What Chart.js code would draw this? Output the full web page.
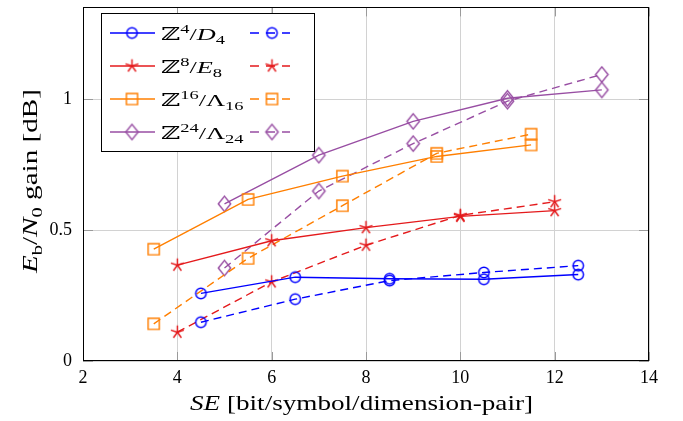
<!DOCTYPE html>
<html>
<head>
<meta charset="utf-8">
<script src="https://cdn.jsdelivr.net/npm/chart.js@4/dist/chart.umd.min.js"></script>
<style>
  html, body { margin: 0; padding: 0; background: #fff; }
  canvas { display: block; }
</style>
</head>
<body>
<canvas id="c" width="683" height="421"></canvas>
<script>
// ---- data ----
const xD4 = [4.5, 6.5, 8.5, 10.5, 12.5];
const yD4Solid = [0.258, 0.320, 0.314, 0.312, 0.330];
const yD4Dashed = [0.148, 0.236, 0.307, 0.338, 0.364];

const xE8 = [4, 6, 8, 10, 12];
const yE8Solid = [0.366, 0.459, 0.509, 0.552, 0.574];
const yE8Dashed = [0.110, 0.302, 0.442, 0.556, 0.608];

const xL16 = [3.5, 5.5, 7.5, 9.5, 11.5];
const yL16Solid = [0.427, 0.617, 0.706, 0.781, 0.825];
const yL16Dashed = [0.142, 0.392, 0.593, 0.793, 0.866];

const xL24 = [5, 7, 9, 11, 13];
const yL24Solid = [0.600, 0.786, 0.915, 1.003, 1.035];
const yL24Dashed = [0.355, 0.649, 0.830, 0.992, 1.094];

const xTicks = [2, 4, 6, 8, 10, 12, 14];
const yTicks = [0, 0.5, 1];

// legend names (rich text parts)
const nameD4 = [{t:'ℤ'},{t:'4',sup:1},{t:'/'},{t:'D',it:1},{t:'4',sub:1}];
const nameE8 = [{t:'ℤ'},{t:'8',sup:1},{t:'/'},{t:'E',it:1},{t:'8',sub:1}];
const nameL16 = [{t:'ℤ'},{t:'16',sup:1},{t:'/'},{t:'Λ'},{t:'16',sub:1}];
const nameL24 = [{t:'ℤ'},{t:'24',sup:1},{t:'/'},{t:'Λ'},{t:'24',sub:1}];
const xTitle = [{t:'SE',it:1},{t:' [bit/symbol/dimension-pair]'}];
const yTitle = [{t:'E',it:1},{t:'b',sub:1},{t:'/'},{t:'N',it:1},{t:'0',sub:1},{t:' gain [dB]'}];

// ---- styling ----
const BLUE = '#0000ff', RED = '#e41a1c', ORANGE = '#ff7f00', PURPLE = '#984ea3';
const SERIF = '"Liberation Serif", "DejaVu Serif", serif';
const DASH = [8, 5];
const LW = 1.4;

function marker(shape, color) {
  const s = 21, c = s / 2;
  const cv = document.createElement('canvas');
  cv.width = s; cv.height = s;
  const g = cv.getContext('2d');
  g.strokeStyle = color; g.lineWidth = 1.45;
  g.beginPath();
  if (shape === 'circle') {
    g.arc(c, c, 5.2, 0, Math.PI * 2);
  } else if (shape === 'square') {
    g.rect(c - 5.6, c - 5.6, 11.2, 11.2);
  } else if (shape === 'diamond') {
    g.moveTo(c, c - 7.6); g.lineTo(c + 6.2, c); g.lineTo(c, c + 7.6); g.lineTo(c - 6.2, c); g.closePath();
  } else if (shape === 'star') {
    for (let k = 0; k < 5; k++) {
      const a = (-90 + 72 * k) * Math.PI / 180;
      g.moveTo(c, c); g.lineTo(c + 6.8 * Math.cos(a), c + 6.8 * Math.sin(a));
    }
  }
  g.stroke();
  return cv;
}

const mD4 = marker('circle', BLUE), mE8 = marker('star', RED),
      mL16 = marker('square', ORANGE), mL24 = marker('diamond', PURPLE);

function pts(xs, ys) { return xs.map((x, i) => ({x: x, y: ys[i]})); }
function ds(xs, ys, color, m, dashed) {
  return {
    data: pts(xs, ys), borderColor: color, backgroundColor: 'transparent',
    borderWidth: LW, borderDash: dashed ? DASH : [], pointStyle: m,
    pointRadius: 6, pointHoverRadius: 6, showLine: true, fill: false, tension: 0
  };
}

const datasets = [
  ds(xD4, yD4Solid, BLUE, mD4, false), ds(xD4, yD4Dashed, BLUE, mD4, true),
  ds(xE8, yE8Solid, RED, mE8, false), ds(xE8, yE8Dashed, RED, mE8, true),
  ds(xL16, yL16Solid, ORANGE, mL16, false), ds(xL16, yL16Dashed, ORANGE, mL16, true),
  ds(xL24, yL24Solid, PURPLE, mL24, false), ds(xL24, yL24Dashed, PURPLE, mL24, true)
];

// ---- rich text helpers ----
function fontFor(p, size) {
  const s = (p.sub || p.sup) ? size * 0.7 : size;
  return (p.it ? 'italic ' : '') + s.toFixed(1) + 'px ' + SERIF;
}
function richWidth(ctx, parts, size) {
  let w = 0;
  for (const p of parts) { ctx.font = fontFor(p, size); w += ctx.measureText(p.t).width; }
  return w;
}
function drawRich(ctx, parts, x, y, size, sx, align) {
  const w = richWidth(ctx, parts, size) * sx;
  const x0 = align === 'center' ? x - w / 2 : x;
  ctx.save();
  ctx.translate(x0, y);
  ctx.scale(sx, 1);
  ctx.fillStyle = '#000';
  ctx.textBaseline = 'alphabetic';
  ctx.textAlign = 'left';
  let px = 0;
  for (const p of parts) {
    ctx.font = fontFor(p, size);
    const dy = p.sub ? size * 0.22 : (p.sup ? -size * 0.38 : 0);
    ctx.fillText(p.t, px, dy);
    px += ctx.measureText(p.t).width;
  }
  ctx.restore();
}

const deco = {
  id: 'deco',
  beforeDatasetsDraw(chart) {
    const {ctx, chartArea: a, scales} = chart;
    ctx.save();
    ctx.strokeStyle = '#9a9a9a'; ctx.lineWidth = 1;
    ctx.beginPath();
    for (const v of xTicks) {
      const p = Math.round(scales.x.getPixelForValue(v)) + 0.5;
      ctx.moveTo(p, a.bottom); ctx.lineTo(p, a.bottom - 9);
      ctx.moveTo(p, a.top); ctx.lineTo(p, a.top + 9);
    }
    for (const v of yTicks) {
      const p = Math.round(scales.y.getPixelForValue(v)) + 0.5;
      ctx.moveTo(a.left, p); ctx.lineTo(a.left + 10, p);
      ctx.moveTo(a.right, p); ctx.lineTo(a.right - 10, p);
    }
    ctx.stroke();
    ctx.restore();
  },
  afterDatasetsDraw(chart) {
    const {ctx, chartArea: a} = chart;
    ctx.save();
    // frame
    ctx.strokeStyle = '#000'; ctx.lineWidth = 1;
    ctx.strokeRect(Math.round(a.left) + 0.5, Math.round(a.top) + 0.5,
                   Math.round(a.right - a.left) - 1, Math.round(a.bottom - a.top) - 1);
    // legend box
    const L = 101, T = 13, R = 315, B = 152;
    ctx.fillStyle = '#fff';
    ctx.fillRect(L, T, R - L, B - T);
    ctx.strokeStyle = '#000';
    ctx.strokeRect(L + 0.5, T + 0.5, R - L - 1, B - T - 1);
    const rows = [
      {name: nameD4, color: BLUE, m: mD4},
      {name: nameE8, color: RED, m: mE8},
      {name: nameL16, color: ORANGE, m: mL16},
      {name: nameL24, color: PURPLE, m: mL24}
    ];
    const fs = 17.5;
    const sx = 64 / richWidth(ctx, nameD4, fs);
    rows.forEach((r, i) => {
      const y = 33 + i * 33;
      ctx.strokeStyle = r.color; ctx.lineWidth = LW;
      ctx.setLineDash([]);
      ctx.beginPath(); ctx.moveTo(110, y); ctx.lineTo(155, y); ctx.stroke();
      ctx.drawImage(r.m, 132 - r.m.width / 2, y - r.m.height / 2);
      ctx.setLineDash([9, 7]); ctx.lineDashOffset = 0;
      ctx.beginPath(); ctx.moveTo(250, y); ctx.lineTo(290, y); ctx.stroke();
      ctx.setLineDash([]);
      ctx.drawImage(r.m, 272 - r.m.width / 2, y - r.m.height / 2);
      drawRich(ctx, r.name, 161, y + 7, fs, sx, 'left');
    });
    ctx.restore();
  },
  afterDraw(chart) {
    const {ctx} = chart;
    const fs = 21;
    const sxX = 343 / richWidth(ctx, xTitle, fs);
    drawRich(ctx, xTitle, 361.5, 410, fs, sxX, 'center');
    ctx.save();
    ctx.translate(37, 181);
    ctx.rotate(-Math.PI / 2);
    const sxY = 184 / richWidth(ctx, yTitle, fs);
    drawRich(ctx, yTitle, 0, 0, fs, sxY, 'center');
    ctx.restore();
  }
};

new Chart(document.getElementById('c'), {
  type: 'scatter',
  data: { datasets: datasets },
  options: {
    responsive: false,
    animation: false,
    devicePixelRatio: 1,
    layout: { padding: { left: 0, right: 34, top: 2, bottom: 0 } },
    plugins: { legend: { display: false }, tooltip: { enabled: false } },
    scales: {
      x: {
        type: 'linear', min: 2, max: 14,
        afterBuildTicks: s => { s.ticks = xTicks.map(v => ({value: v})); },
        ticks: { color: '#000', font: { family: SERIF, size: 18 }, padding: 6, maxRotation: 0,
                 callback: v => String(v) },
        grid: { color: '#d2d2d2', lineWidth: 1, drawTicks: false },
        border: { display: false },
        afterFit: s => { s.height = 60; s.paddingLeft = 0; s.paddingRight = 0; }
      },
      y: {
        type: 'linear', min: 0, max: 1.35,
        afterBuildTicks: s => { s.ticks = yTicks.map(v => ({value: v})); },
        ticks: { color: '#000', font: { family: SERIF, size: 18 }, padding: 11,
                 callback: v => String(v) },
        grid: { color: '#d2d2d2', lineWidth: 1, drawTicks: false },
        border: { display: false },
        afterFit: s => { s.width = 83; s.paddingTop = 0; s.paddingBottom = 0; }
      }
    }
  },
  plugins: [deco]
});
</script>
</body>
</html>
